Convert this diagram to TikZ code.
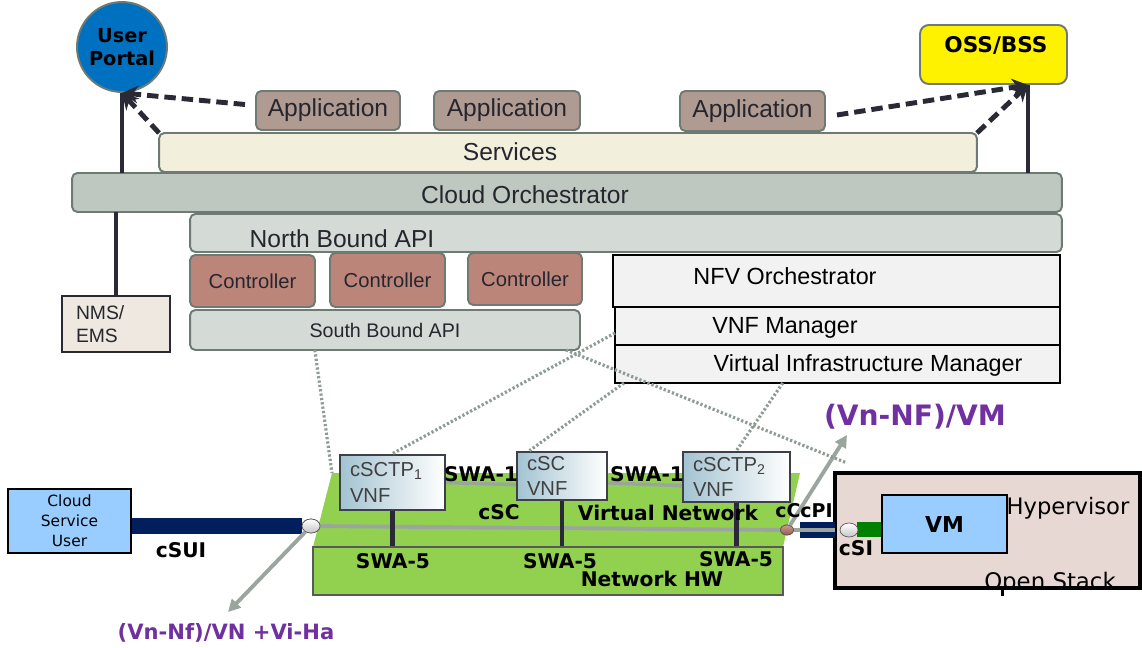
\documentclass[tikz,border=0pt]{standalone}
\usepackage{fontspec}
\setmainfont{Liberation Sans}
\newfontfamily\dvfont{DejaVu Sans}
\usetikzlibrary{shapes,arrows.meta,calc,positioning}
\definecolor{edgegray}{HTML}{6E7B74}
\definecolor{inkgray}{HTML}{26262E}
\definecolor{appbrown}{HTML}{B09B92}
\definecolor{svccream}{HTML}{F2F0DC}
\definecolor{orchgray}{HTML}{BFC7C1}
\definecolor{apigray}{HTML}{D4DAD6}
\definecolor{ctrlred}{HTML}{BC857A}
\definecolor{nmsbeige}{HTML}{EEE8E0}
\definecolor{manogray}{HTML}{F2F2F2}
\definecolor{darkline}{HTML}{2A2A36}
\definecolor{portalblue}{HTML}{0070C0}
\definecolor{userblue}{HTML}{99CCFF}
\definecolor{navybar}{HTML}{001F5C}
\definecolor{hwgreen}{HTML}{92D050}
\definecolor{hvpink}{HTML}{E8D8D4}
\definecolor{vmgreen}{HTML}{008000}
\definecolor{linkgray}{HTML}{9AA59E}
\definecolor{dotgray}{HTML}{8E9C94}
\definecolor{refpurple}{HTML}{7030A0}
\definecolor{vnfblue}{HTML}{A3C3D1}
\definecolor{portbrown}{HTML}{A0584A}
\tikzset{
    box/.style={draw=edgegray, line width=1.1pt, rounded corners=3pt, inner sep=0pt, outer sep=0pt, text=inkgray},
    app/.style={box, fill=appbrown, font=\fontsize{14}{16}\selectfont},
    layer/.style={box, font=\fontsize{14}{16}\selectfont},
    ctrl/.style={box, fill=ctrlred, font=\fontsize{11.5}{13}\selectfont},
    txt/.style={inner sep=0pt, text=inkgray, font=\fontsize{14}{16}\selectfont},
    mano/.style={draw=black, line width=0.7pt, fill=manogray, inner sep=0pt, outer sep=0pt},
    manotxt/.style={inner sep=0pt, text=black, font=\fontsize{13.3}{15}\selectfont},
    vnf/.style={draw=darkline!90, line width=1.6pt, left color=vnfblue, right color=white, inner sep=0pt, text=black!75, align=left, font=\fontsize{11.5}{14.5}\selectfont},
    tag/.style={inner sep=0pt, font=\dvfont\bfseries\fontsize{11.5}{13}\selectfont},
    ref/.style={inner sep=0pt, text=refpurple, font=\dvfont\bfseries\fontsize{12}{14}\selectfont},
    mgmt/.style={draw=darkline, line width=2.8pt},
    feed/.style={mgmt, dash pattern=on 6.5pt off 3.4pt, -{Stealth[length=9pt,width=10pt]}},
    ctlink/.style={draw=dotgray, line width=1.8pt, dash pattern=on 1.3pt off 1.2pt},
    vlink/.style={draw=linkgray, line width=2.2pt},
    refarrow/.style={vlink, -{Triangle[length=7pt,width=7pt]}},
    port/.style={ellipse, draw=gray!70!black, line width=0.4pt, inner sep=0pt, minimum width=0.36cm, minimum height=0.28cm, top color=white, bottom color=gray!45}
}

\begin{document}
\begin{tikzpicture}[x=0.02cm,y=-0.02cm]
\useasboundingbox (0,0) rectangle (1142,648);

% management stack
\node[layer, fill=svccream, minimum width=16.36cm, minimum height=0.78cm] (svc) at (568,152.5) {};
\node[txt] (svctxt) at (510,152) {Services};
\node[app, minimum width=2.88cm, minimum height=0.78cm] (app1) at (328,110.5) {Application};
\node[app, minimum width=2.92cm, minimum height=0.78cm] (app2) at (507,110.5) {Application};
\node[app, minimum width=2.9cm, minimum height=0.8cm] (app3) at (752.5,111) {Application};
\node[layer, fill=orchgray, minimum width=19.8cm, minimum height=0.78cm] (co) at (567,192.5) {};
\node[txt] (cotxt) at (525,195) {Cloud Orchestrator};
\node[layer, fill=apigray, minimum width=17.44cm, minimum height=0.76cm] (nb) at (626,233) {};
\node[txt] (nbtxt) at (342,239) {North Bound API};
\node[ctrl, minimum width=2.5cm, minimum height=1.04cm] (ctl1) at (252.5,281) {Controller};
\node[ctrl, minimum width=2.3cm, minimum height=1.08cm] (ctl2) at (387.5,280) {Controller};
\node[ctrl, minimum width=2.28cm, minimum height=1.04cm] (ctl3) at (525,279) {Controller};
\node[layer, fill=apigray, minimum width=7.8cm, minimum height=0.8cm, font=\fontsize{11.2}{13}\selectfont] (sb) at (385,330) {South Bound API};
\node[draw=darkline, line width=1.6pt, fill=nmsbeige, minimum width=2.16cm, minimum height=1.12cm, text width=1.6cm, align=left, inner sep=0pt, text=inkgray, font=\fontsize{11}{13.5}\selectfont] (nms) at (116,324) {NMS/\\EMS};

\node[mano, minimum width=8.94cm, minimum height=1.04cm] (nfvo) at (836.5,281) {};
\node[manotxt] (nfvotxt) at (785,276) {NFV Orchestrator};
\node[mano, minimum width=8.9cm, minimum height=0.76cm] (vnfm) at (837.5,326) {};
\node[manotxt] (vnfmtxt) at (785,328) {VNF Manager};
\node[mano, minimum width=8.9cm, minimum height=0.76cm] (vim) at (837.5,364) {};
\node[manotxt] (vimtxt) at (868,365) {Virtual Infrastructure Manager};

\node[circle, draw=edgegray, line width=1.1pt, fill=portalblue, minimum size=1.8cm, inner sep=0pt, align=center, font=\dvfont\bfseries\fontsize{11}{13}\selectfont] (up) at (122,47) {User\\Portal};
\node[box, fill=yellow, rounded corners=5pt, minimum width=2.94cm, minimum height=1.18cm] (oss) at (993.5,54.5) {};
\node[tag, font=\dvfont\bfseries\fontsize{12.3}{14}\selectfont] (osstxt) at (996,45) {OSS/BSS};
\coordinate (ossfoot) at (1028,85);

\draw[mgmt] (up.south) -- (up.south |- co.north);
\draw[mgmt] (nms.north) -- (nms.north |- co.south);
\draw[mgmt] (ossfoot) -- (ossfoot |- co.north);
\draw[feed] ($(app1.west)+(-11,-6)$) -- (up.south);
\draw[feed] (svc.north west) -- (up.south);
\draw[feed] ($(app3.east)+(12,4)$) -- (ossfoot);
\draw[feed] (svc.north east) -- (ossfoot);

% infrastructure
\coordinate (vntl) at (332,473);
\fill[hwgreen] (vntl) -- (800,473) -- (783,547) -- (313,547) -- cycle;
\node[draw=gray!70!black, line width=1.1pt, fill=hwgreen, minimum width=9.4cm, minimum height=0.96cm, inner sep=0pt] (hw) at (548,571) {};

\node[draw=black, line width=1pt, fill=userblue, minimum width=2.46cm, minimum height=1.28cm, align=center, inner sep=0pt, font=\dvfont\fontsize{8.8}{11.5}\selectfont] (csu) at (69.5,521) {Cloud\\Service\\User};
\node[fill=hvpink, minimum width=6.1cm, minimum height=2.3cm, inner sep=0pt] (hv) at (987.5,530.5) {};
\begin{scope}
  \clip (hv.north west) rectangle (hv.south east);
  \node[inner sep=0pt, font=\dvfont\fontsize{13}{15}\selectfont] (ostxt) at (1050,583) {Open Stack};
\end{scope}
\draw[draw=black, line width=2.3pt] (hv.north west) rectangle (hv.south east);
\draw[line width=1.5pt] ($(hv.south west)+(168,0)$) -- ($(hv.south west)+(168,8)$);
\node[inner sep=0pt, font=\dvfont\fontsize{12.9}{15}\selectfont] (hvtxt) at (1068,508) {Hypervisor};

\node[port] (upt) at (311,526) {};
\node[port, minimum width=0.26cm, minimum height=0.2cm, top color=portbrown!60, bottom color=portbrown] (cpt) at (787,530) {};
\draw[draw=navybar, line width=9pt] (csu.east |- upt) -- (upt.west);
\draw[draw=navybar, line width=9.5pt] ([xshift=3.5pt]cpt.east) -- (hv.west |- cpt);
\node[fill=vmgreen, minimum width=0.54cm, minimum height=0.3cm, inner sep=0pt] (vmport) at (870.5,529.5) {};
\node[draw=black, line width=0.8pt, fill=userblue, minimum width=2.5cm, minimum height=1.16cm, font=\dvfont\bfseries\fontsize{12.5}{14}\selectfont] (vm) at (944.5,524) {VM};

\draw[vlink] (upt) -- (cpt);
\draw[vlink] (cpt) -- (hv.west |- cpt);
\node[port] (spt) at (849,530) {};
\node[port] at (upt) {};
\node[port, minimum width=0.26cm, minimum height=0.2cm, top color=portbrown!60, bottom color=portbrown] at (cpt) {};

\coordinate (vnref) at (228,612);
\coordinate (vmref) at (847,435);
\draw[refarrow] (upt) -- (vnref);
\draw[refarrow] (cpt) -- (vmref);

\draw[vlink, line width=2pt] (443,482.5) -- (527,485);
\draw[vlink, line width=2pt] (607,483) -- (693,486);
\node[vnf, minimum width=2.1cm, minimum height=1.1cm, text width=1.7cm] (v1) at (392.5,482.5) {cSCTP\textsubscript{1}\\VNF};
\node[vnf, minimum width=1.8cm, minimum height=0.96cm, text width=1.4cm] (v2) at (562,476) {cSC\\VNF};
\node[vnf, minimum width=2.14cm, minimum height=1.0cm, text width=1.74cm] (v3) at (736.5,477) {cSCTP\textsubscript{2}\\VNF};
\draw[mgmt, line width=2.4pt] (v1.south) -- (v1.south |- hw.north);
\draw[mgmt, line width=2.4pt] (v2.south) -- (v2.south |- hw.north);
\draw[mgmt, line width=2.4pt] (v3.south) -- (v3.south |- hw.north);

% control links
\coordinate (nfvtap) at (847,463);
\draw[ctlink] ($(sb.south west)!0.32!(sb.south east)$) -- (vntl);
\draw[ctlink] ([yshift=-4pt]vnfm.west) -- (v1.north);
\draw[ctlink] ([xshift=-8pt]sb.south east) -- (nfvtap);
\draw[ctlink] ($(vim.south west)!0.02!(vim.south east)$) -- ($(v2.north west)!0.15!(v2.north east)$);
\draw[ctlink] ($(vim.south west)!0.377!(vim.south east)$) -- (v3.north);

% labels
\node[tag] (swa1a) at (481,474) {SWA-1};
\node[tag] (swa1b) at (647,474) {SWA-1};
\node[tag] (csctxt) at (499,512) {cSC};
\node[tag] (vntxt) at (668,513) {Virtual Network};
\node[tag, font=\dvfont\bfseries\fontsize{10.8}{13}\selectfont] (ccpitxt) at (804,511) {cCcPI};
\node[tag] (swa5a) at (393,561) {SWA-5};
\node[tag] (swa5b) at (560,561) {SWA-5};
\node[tag] (swa5c) at (736,559) {SWA-5};
\node[tag] (hwtxt) at (652,579) {Network HW};
\node[tag] (csuitxt) at (181,550) {cSUI};
\node[tag] (csitxt) at (856,548) {cSI};
\node[ref] (vnreftxt) at (226,633) {(Vn-Nf)/VN +Vi-Ha};
\node[ref, font=\dvfont\bfseries\fontsize{16}{18}\selectfont] (vmreftxt) at (915,417) {(Vn-NF)/VM};
\end{tikzpicture}
\end{document}
